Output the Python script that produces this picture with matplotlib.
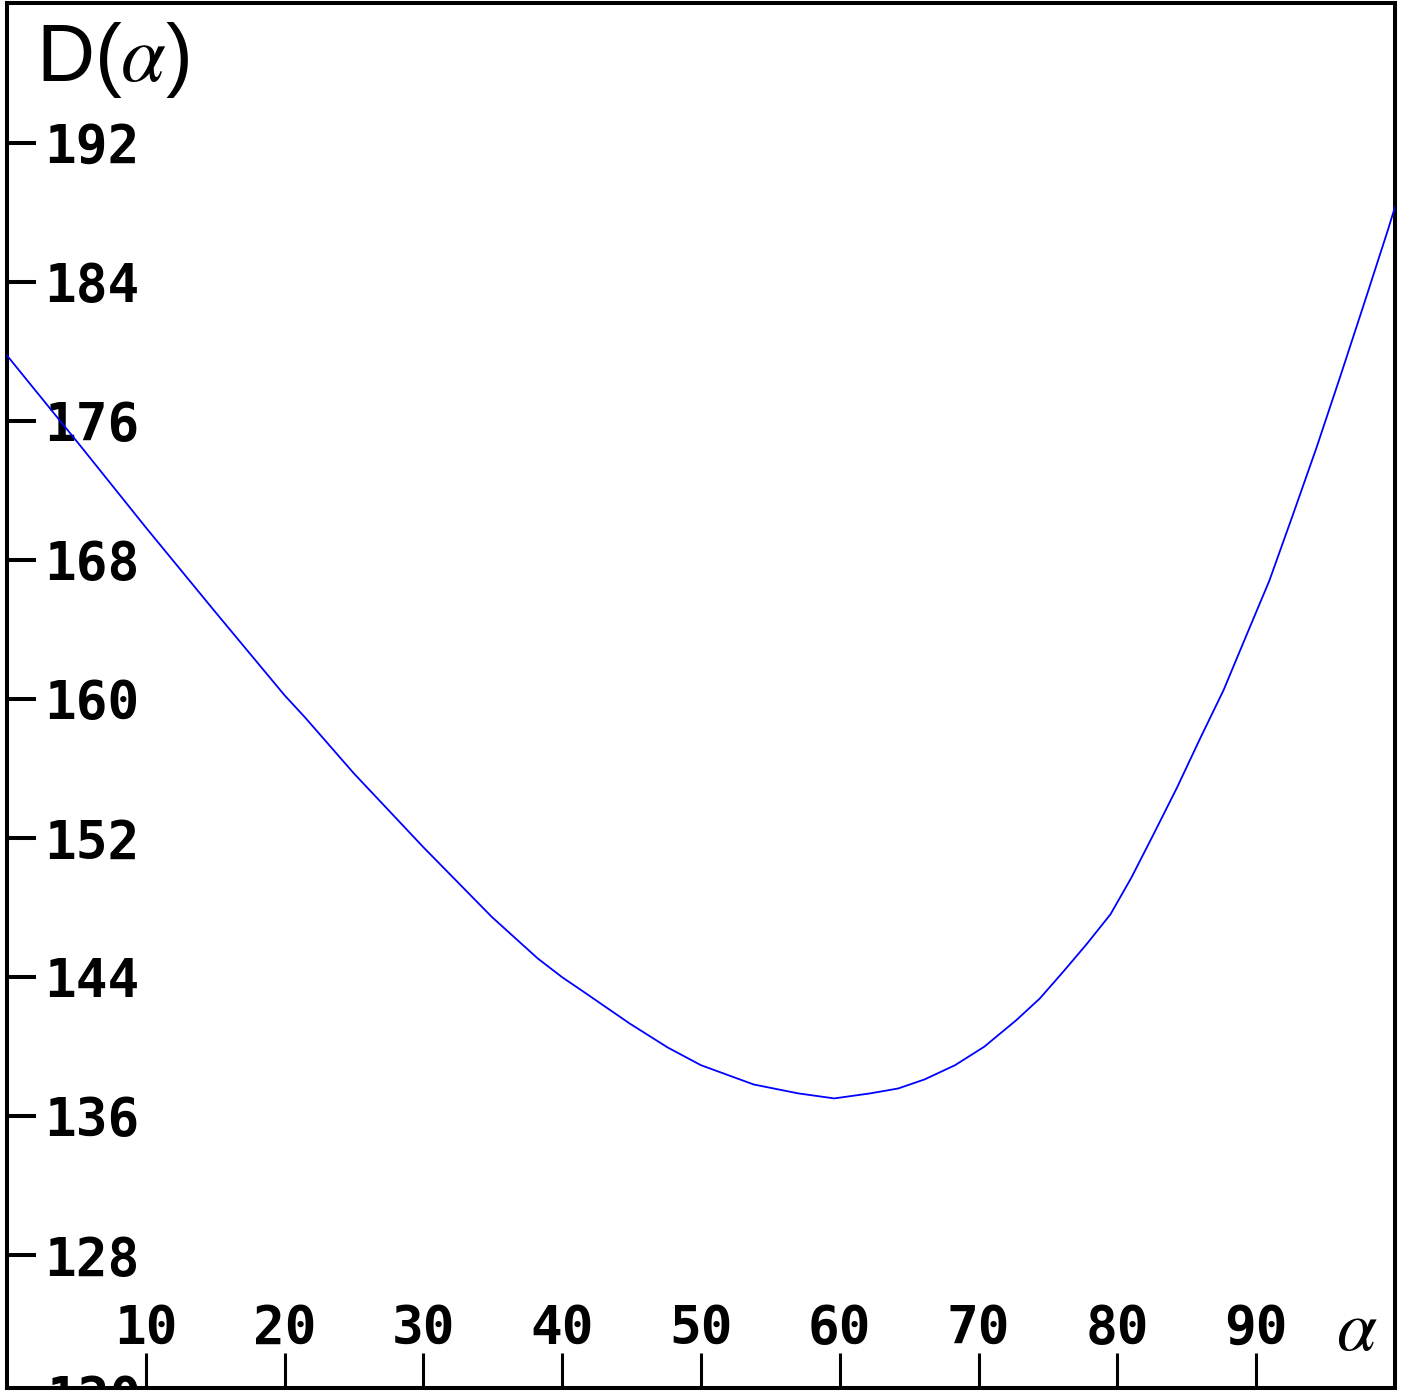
import matplotlib
matplotlib.use("Agg")
import matplotlib.pyplot as plt

plt.rcParams["mathtext.fontset"] = "stix"

# Data
alpha = [0, 5.26, 10, 15, 20, 21.47, 25, 30, 34.93, 38.24, 40, 41.55, 44.86, 47.6, 50,
         53.8, 57.0, 59.6, 62.2, 64.2, 66.1, 68.3, 70.4, 72.7, 74.4, 76.1, 77.8, 79.5,
         81.0, 82.6, 84.3, 85.95, 87.65, 89.3, 90.95, 92.65, 94.35, 96.1, 97.8, 99.5, 100]
D = [179.75, 174.58, 169.86, 165.0, 160.2, 158.93, 155.7, 151.46, 147.45, 145.06, 143.98,
     143.14, 141.32, 139.94, 138.92, 137.81, 137.3, 137.01, 137.3, 137.58, 138.1, 138.92,
     139.98, 141.5, 142.75, 144.3, 145.9, 147.6, 149.7, 152.2, 154.9, 157.7, 160.5,
     163.66, 166.8, 170.6, 174.46, 178.65, 182.8, 187.0, 188.3]
xticks = [10, 20, 30, 40, 50, 60, 70, 80, 90]
yticks = [128, 136, 144, 152, 160, 168, 176, 184, 192]

W, H = 1403, 1391
fig = plt.figure(figsize=(W / 100, H / 100), dpi=100)
ax = fig.add_axes([7 / W, 1 - 1388 / H, (1395 - 7) / W, (1388 - 3.5) / H])

ax.plot(alpha, D, color=(0, 0, 1), lw=1.3, zorder=3)
ax.set_xlim(0, 100)
ax.set_ylim(120.35, 200)

for s in ax.spines.values():
    s.set_linewidth(2.9)
    s.set_color("black")

tickfont = dict(family="DejaVu Sans Mono", weight="bold", size=38)
ax.set_xticks(xticks)
ax.set_yticks(yticks)
ax.set_xticklabels([str(t) for t in xticks], **tickfont)
ax.set_yticklabels([str(t) for t in yticks], **tickfont)
ax.tick_params(axis="x", direction="in", length=25, width=2.2, pad=-24)
ax.tick_params(axis="y", direction="in", length=21, width=2.9, pad=-27)
for lab in ax.get_xticklabels():
    lab.set_va("bottom")
for lab in ax.get_yticklabels():
    lab.set_ha("left")
    lab.set_va("center_baseline")

# partially hidden 120 label at the bottom edge
ax.annotate("120", xy=(0, 120), xycoords="data", xytext=(28, 0), textcoords="offset points",
            ha="left", va="center_baseline", annotation_clip=False, clip_on=True, **tickfont)

ax.text(0.021, 0.988, r"D($\alpha$)", transform=ax.transAxes, ha="left", va="top",
        family="Liberation Sans", size=58)
ax.text(0.9725, 0.0415, r"$\alpha$", transform=ax.transAxes, ha="center", va="center",
        size=52)

fig.savefig("out.png", dpi=100)
